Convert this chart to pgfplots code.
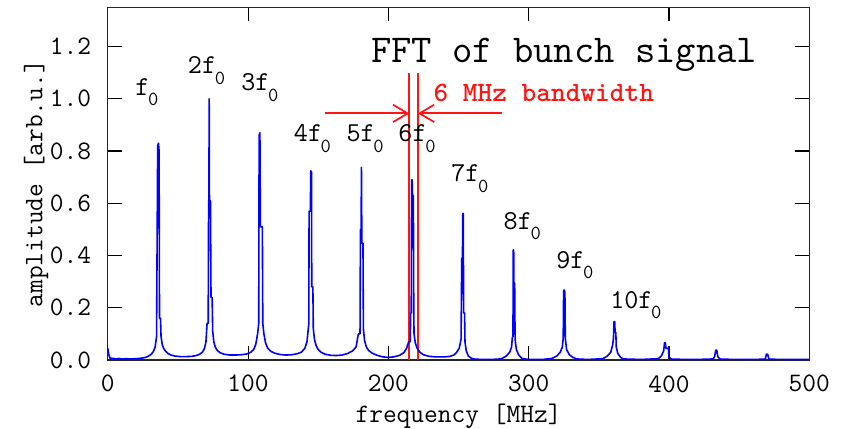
\documentclass[border=0pt]{standalone}
\usepackage{pgfplots}
\pgfplotsset{compat=1.18}
\usetikzlibrary{arrows.meta}
\definecolor{myred}{RGB}{255,20,20}
\definecolor{myblue}{RGB}{0,0,255}
\newcommand\lab{\ttfamily\fontsize{20}{24}\selectfont}
\newcommand\plab{\ttfamily\fontsize{20.5}{24}\selectfont}
\newcommand\sub[1]{\kern-1pt\raisebox{-8pt}{\fontsize{15}{15}\selectfont #1}}
\begin{document}
\begin{tikzpicture}
\useasboundingbox (-80.8pt,-51.75pt) rectangle (552.2pt,270pt);
\begin{axis}[
  scale only axis, width=526.2pt, height=264.5pt,
  at={(0,0)}, anchor=south west,
  xmin=0, xmax=500, ymin=0, ymax=1.35,
  xtick={0,100,200,300,400,500},
  ytick={0,0.2,0.4,0.6,0.8,1.0,1.2},
  tick align=inside, major tick length=10.5pt,
  tick style={line width=0.8pt, black},
  axis line style={line width=1.1pt, black!85},
  /pgf/number format/assume math mode=true,
  ticklabel style={font=\lab},
  yticklabel style={/pgf/number format/fixed, /pgf/number format/fixed zerofill, /pgf/number format/precision=1, xshift=-9pt},
  xticklabel style={yshift=-8pt},
  xlabel={frequency [MHz]}, ylabel={amplitude [arb.u.]},
  label style={font=\lab},
  xlabel style={at={(axis description cs:0.5,0)}, anchor=base, yshift=-46.5pt},
  ylabel style={at={(axis description cs:0,0.5)}, anchor=base, yshift=49pt},
]
\addplot[color=myred, line width=1.6pt, mark=none] coordinates {(215,0) (215,1.097)};
\addplot[color=myred, line width=1.6pt, mark=none] coordinates {(221,0) (221,1.097)};
\addplot[color=myred, line width=1.6pt, mark=none, -{Straight Barb[length=11pt,width=13pt,line width=1.3pt]}] coordinates {(155,0.944) (215,0.944)};
\addplot[color=myred, line width=1.6pt, mark=none, -{Straight Barb[length=11pt,width=13pt,line width=1.3pt]}] coordinates {(281,0.944) (221,0.944)};
\addplot[color=myblue, line width=1.2pt, line join=round, mark=none] coordinates {
(0,0.045) (0.8,0.02) (1.6,0.007) (4,0.006) (6,0.004) (8,0.006) (10,0.004) (13,0.005) (16,0.004) (20,0.005) (24,0.007) (27,0.010) (29,0.015) (31,0.022) (32.5,0.032) (33.8,0.05) (34.8,0.09) (35.6,0.82) (36.15,0.83) (36.6,0.80) (36.9,0.16) (37.6,0.16) (38.0,0.09) (38.8,0.06) (39.8,0.045) (41,0.035) (43,0.025) (45,0.019) (48,0.015) (52,0.013) (56,0.013) (60,0.014) (63,0.017) (65.5,0.022) (67.5,0.03) (69,0.045) (70,0.07) (70.8,0.14) (71.6,0.14) (71.9,0.61) (72.1,0.61) (72.3,1.0) (72.5,0.61) (73.2,0.61) (73.6,0.24) (74.4,0.24) (74.8,0.11) (75.6,0.07) (76.6,0.05) (78,0.037) (80,0.028) (83,0.022) (87,0.019) (91,0.019) (95,0.02) (99,0.023) (102,0.03) (104,0.04) (105.5,0.06) (106.8,0.10) (107.6,0.14) (107.9,0.86) (108.45,0.87) (108.8,0.51) (110.2,0.51) (110.5,0.14) (111.3,0.10) (112.5,0.065) (114,0.045) (116,0.034) (119,0.026) (123,0.021) (127,0.019) (131,0.02) (135,0.024) (138,0.03) (140.5,0.045) (142,0.07) (143.3,0.14) (143.5,0.57) (144.4,0.57) (144.7,0.724) (145.2,0.72) (145.4,0.28) (146.2,0.28) (146.5,0.12) (147.3,0.08) (148.5,0.055) (150,0.04) (152,0.03) (155,0.022) (159,0.018) (163,0.017) (167,0.019) (171,0.025) (174.5,0.035) (177,0.05) (178.6,0.10) (179.8,0.10) (180.1,0.50) (180.6,0.50) (180.8,0.737) (181.1,0.447) (181.9,0.447) (182.2,0.12) (183,0.075) (184.3,0.05) (186,0.036) (188.5,0.026) (192,0.018) (196,0.012) (200,0.01) (204,0.012) (208,0.018) (211,0.028) (213,0.045) (214.5,0.07) (215.6,0.07) (215.9,0.18) (216.3,0.18) (216.6,0.69) (216.9,0.69) (217.2,0.63) (217.8,0.63) (218.1,0.18) (218.3,0.10) (219.2,0.065) (220.5,0.045) (222.5,0.03) (225,0.02) (229,0.014) (234,0.012) (240,0.012) (244,0.014) (247,0.02) (248.7,0.03) (250.5,0.045) (251.8,0.08) (252.3,0.39) (252.8,0.39) (253.05,0.561) (253.4,0.561) (253.6,0.18) (254.3,0.18) (254.6,0.07) (255.5,0.035) (257,0.015) (259.4,0.006) (262,0.003) (270,0.002) (278,0.003) (281,0.006) (284,0.015) (286.5,0.03) (287.8,0.05) (288.4,0.089) (288.8,0.089) (289.0,0.421) (289.3,0.421) (289.5,0.293) (290.0,0.293) (290.3,0.08) (291.2,0.04) (292.8,0.02) (295.1,0.006) (300,0.002) (310,0.002) (316.5,0.006) (320,0.015) (322.5,0.03) (324,0.05) (324.6,0.083) (324.9,0.265) (325.35,0.268) (325.8,0.26) (326.1,0.083) (327,0.04) (329,0.02) (331.5,0.01) (334.3,0.004) (342,0.002) (352.8,0.005) (356,0.015) (358.5,0.03) (359.9,0.06) (360.4,0.083) (360.8,0.147) (361.3,0.147) (361.6,0.105) (362.1,0.105) (362.4,0.05) (363.5,0.025) (365.5,0.01) (367.5,0.004) (380,0.002) (392.4,0.005) (394.5,0.015) (396.2,0.035) (396.8,0.066) (397.4,0.066) (397.8,0.045) (399.6,0.045) (400,0.01) (402,0.003) (420,0.002) (431.5,0.004) (432.6,0.015) (433.3,0.038) (434.0,0.038) (434.8,0.012) (436.6,0.003) (455,0.002) (468.6,0.003) (469.4,0.022) (470.3,0.022) (471.2,0.003) (485,0.002) (500,0.002)
};
\node[anchor=base west, font=\ttfamily\fontsize{29.6}{34}\selectfont, inner sep=0pt] at (axis cs:187.5,1.14) {FFT of bunch signal};
\node[anchor=base west, font=\ttfamily\bfseries\fontsize{21}{24}\selectfont, text=myred, inner sep=0pt] at (axis cs:232,0.988) {6 MHz bandwidth};
\node[anchor=base west, font=\plab, inner sep=0pt] at (axis cs:19.5,1.014) {f\sub{0}};
\node[anchor=base west, font=\plab, inner sep=0pt] at (axis cs:57,1.095) {2f\sub{0}};
\node[anchor=base west, font=\plab, inner sep=0pt] at (axis cs:95,1.031) {3f\sub{0}};
\node[anchor=base west, font=\plab, inner sep=0pt] at (axis cs:132.5,0.835) {4f\sub{0}};
\node[anchor=base west, font=\plab, inner sep=0pt] at (axis cs:170,0.835) {5f\sub{0}};
\node[anchor=base west, font=\plab, inner sep=0pt] at (axis cs:207,0.835) {6f\sub{0}};
\node[anchor=base west, font=\plab, inner sep=0pt] at (axis cs:244.7,0.682) {7f\sub{0}};
\node[anchor=base west, font=\plab, inner sep=0pt] at (axis cs:282,0.501) {8f\sub{0}};
\node[anchor=base west, font=\plab, inner sep=0pt] at (axis cs:319.5,0.351) {9f\sub{0}};
\node[anchor=base west, font=\plab, inner sep=0pt] at (axis cs:358,0.198) {10f\sub{0}};
\end{axis}
\end{tikzpicture}
\end{document}
